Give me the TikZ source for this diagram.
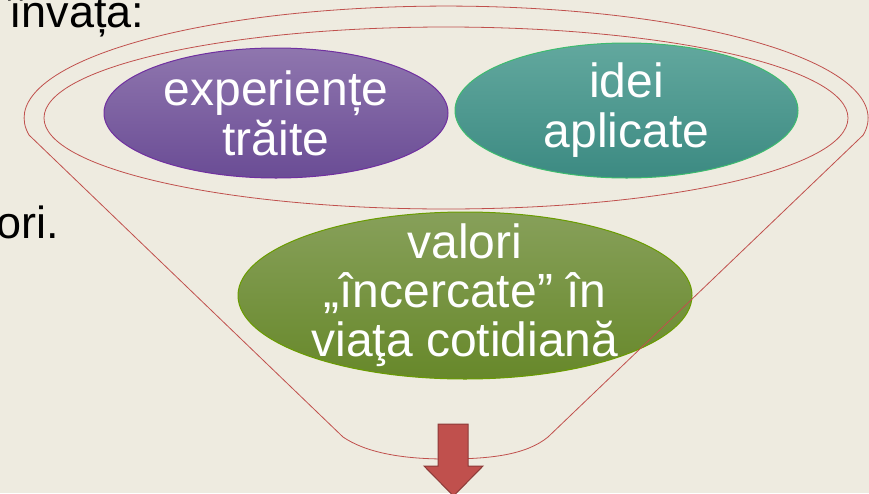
\documentclass[tikz,border=0pt]{standalone}
\usepackage{fontspec}
\setmainfont{Liberation Sans}
\usetikzlibrary{shapes.geometric}
\definecolor{paper}{HTML}{EEEBE0}
\definecolor{funnelred}{HTML}{C0504D}
\definecolor{arrowdark}{HTML}{8C3A38}
\definecolor{purpletop}{HTML}{8F76AE}
\definecolor{purplebot}{HTML}{6A4C95}
\definecolor{purpleline}{HTML}{7030A0}
\definecolor{tealtop}{HTML}{62A89E}
\definecolor{tealbot}{HTML}{3C8A82}
\definecolor{tealline}{HTML}{3DBB6E}
\definecolor{greentop}{HTML}{87A05A}
\definecolor{greenbot}{HTML}{67882A}
\definecolor{greenline}{HTML}{6A9C00}

\begin{document}
\begin{tikzpicture}[x=1pt,y=-1pt,
    bubble/.style={ellipse,line width=1pt,inner sep=0pt,text=white,
        align=center,font={\fontsize{48}{50}\selectfont}},
    funnel/.style={draw=funnelred,line width=0.8pt},
    side/.style={font={\fontsize{45}{50}\selectfont},inner sep=0pt}]
\fill[paper](0,0) rectangle (869,493);
\useasboundingbox (0,0) rectangle (869,493);

\node[side,anchor=base west] (invata) at (9,27) {învața:};
\node[side,anchor=base east] (ori) at (59,238) {ori.};

\node[bubble,draw=purpleline,top color=purpletop,bottom color=purplebot,
    minimum width=344,minimum height=130] (traite) at (276,113)
    {experiențe\\trăite};
\node[bubble,draw=tealline,top color=tealtop,bottom color=tealbot,
    minimum width=343,minimum height=135] (aplicate) at (626.5,110.5)
    {idei\\aplicate};
\node[bubble,draw=greenline,top color=greentop,bottom color=greenbot,
    inner ysep=-18pt,font={\fontsize{48}{49}\selectfont},
    minimum width=454,minimum height=167] (valori) at (465,295.5)
    {valori\\„încercate” în\\viaţa cotidiană};

\draw[funnel](29,135) arc[start angle=171.3,end angle=368.7,
    x radius=422,y radius=112] -- (548,437)
    .. controls (526,455) and (490,459) .. (446,459)
    .. controls (400,459) and (365,452) .. (343,437) -- cycle;
\draw[funnel](446,118) ellipse[x radius=402,y radius=91];

\draw[fill=funnelred,draw=arrowdark,line width=1pt]
    (438,424) -- (468,424) -- (468,466) -- (483,466) -- (453.5,496)
    -- (424,466) -- (438,466) -- cycle;
\end{tikzpicture}
\end{document}
